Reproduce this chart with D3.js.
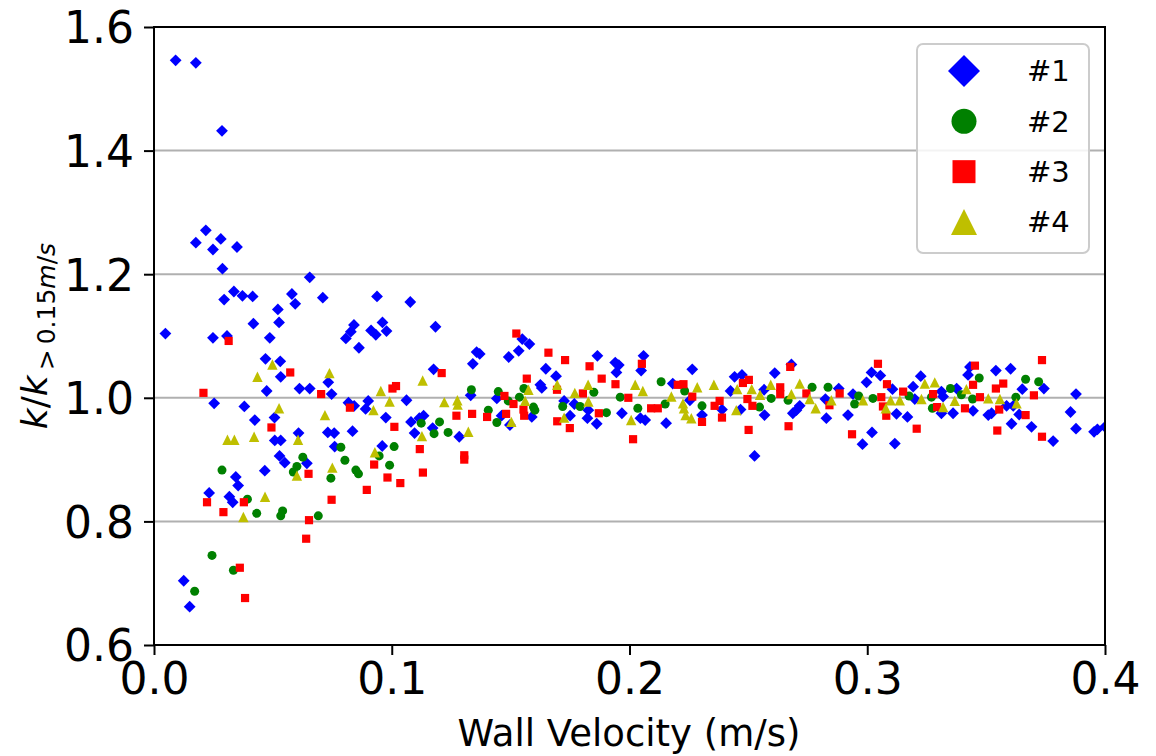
<!DOCTYPE html>
<html>
<head>
<meta charset="utf-8">
<script src="https://cdn.jsdelivr.net/npm/d3@7"></script>
<style>
  html, body { margin: 0; padding: 0; background: #fff; }
  svg { display: block; font-family: "DejaVu Sans", sans-serif; }
</style>
</head>
<body>
<svg id="chart" width="1156" height="756"></svg>
<script>
// ---------------- data ----------------
const seriesNames = ["#1", "#2", "#3", "#4"];
const xTicks = [0.0, 0.1, 0.2, 0.3, 0.4];
const yTicks = [0.6, 0.8, 1.0, 1.2, 1.4, 1.6];
const gridTicks = [0.8, 1.0, 1.2, 1.4];

const series1 = [
  [0.0091,1.546],[0.0176,1.542],[0.0286,1.432],[0.0218,1.271],[0.0176,1.251],[0.0281,1.257],[0.0248,1.240],[0.0349,1.244],
  [0.0288,1.209],[0.0655,1.195],[0.0336,1.172],[0.0372,1.165],[0.0415,1.164],[0.0295,1.159],[0.058,1.168],[0.0594,1.152],
  [0.071,1.162],[0.0938,1.164],[0.0521,1.143],[0.0526,1.122],[0.0418,1.120],[0.0841,1.118],[0.0828,1.107],[0.0913,1.109],
  [0.0961,1.122],[0.0978,1.108],[0.0933,1.102],[0.0048,1.104],[0.0248,1.097],[0.0307,1.100],[0.0487,1.097],[0.0807,1.096],
  [0.0862,1.081],[0.0469,1.063],[0.0531,1.059],[0.0533,1.034],[0.0733,1.025],[0.0474,1.011],[0.0612,1.015],[0.0655,1.015],
  [0.0747,1.006],[0.0253,0.991],[0.038,0.986],[0.0424,0.964],[0.0507,0.968],[0.0818,0.992],[0.0842,0.987],[0.0901,0.995],
  [0.0890,0.982],[0.0975,0.968],[0.0508,0.931],[0.0533,0.931],[0.0608,0.943],[0.0731,0.944],[0.0758,0.943],[0.0835,0.946],
  [0.076,0.921],[0.0960,0.922],[0.0528,0.906],[0.0550,0.895],[0.0643,0.894],[0.0466,0.882],[0.0344,0.872],[0.0354,0.858],
  [0.0232,0.846],[0.0317,0.840],[0.0331,0.831],[0.0125,0.704],[0.015,0.662],
  [0.1078,1.155],[0.1184,1.115],[0.1549,1.095],[0.1579,1.087],[0.1534,1.076],[0.1492,1.066],[0.1357,1.074],[0.137,1.071],
  [0.1341,1.055],[0.1865,1.068],[0.194,1.057],[0.1955,1.053],[0.1945,1.041],[0.1648,1.047],[0.1691,1.035],[0.1176,1.046],
  [0.1625,1.021],[0.1631,1.016],[0.1332,1.004],[0.1062,0.996],[0.1442,0.999],[0.1589,0.969],[0.1462,0.971],[0.1497,0.956],
  [0.1725,0.995],[0.1768,0.990],[0.1827,0.980],[0.1968,0.975],[0.175,0.971],[0.1823,0.967],[0.1862,0.958],[0.1081,0.961],
  [0.1116,0.967],[0.1134,0.971],[0.1096,0.943],[0.1172,0.951],[0.1284,0.937],
  [0.2059,1.068],[0.2049,1.044],[0.2264,1.046],[0.2442,1.034],[0.2473,1.037],[0.2611,1.040],[0.2681,1.054],[0.2182,1.023],
  [0.2425,1.011],[0.2566,1.013],[0.2716,0.987],[0.2880,1.015],[0.2824,0.998],[0.2940,1.006],[0.2046,0.967],[0.2066,0.964],
  [0.2154,0.959],[0.2305,0.972],[0.2254,0.996],[0.2389,0.981],[0.2467,0.981],[0.2568,0.972],[0.2526,0.906],[0.2687,0.975],
  [0.2702,0.980],[0.2828,0.967],[0.2919,0.972],[0.2980,0.925],
  [0.3018,1.041],[0.3055,1.036],[0.2997,1.025],[0.3106,1.014],[0.3193,1.018],[0.3225,1.035],[0.3200,0.998],[0.3123,0.974],
  [0.3169,0.969],[0.3312,1.010],[0.3319,1.002],[0.3312,0.975],[0.3376,1.015],[0.3361,0.975],[0.3424,1.037],[0.3432,1.050],
  [0.3445,0.979],[0.3509,0.972],[0.3523,0.975],[0.3541,1.044],[0.3603,1.047],[0.3607,0.958],[0.3586,0.987],[0.3614,0.987],
  [0.3652,1.014],[0.3639,0.973],[0.3691,0.953],[0.3743,1.015],[0.3782,0.930],[0.3878,1.006],[0.3855,0.977],[0.3878,0.950],
  [0.3954,0.945],[0.3968,0.949],[0.4,0.953],[0.302,0.944],[0.3116,0.926]
];

const series2 = [
  [0.0786,0.920],[0.0803,0.899],[0.0947,0.906],[0.101,0.921],[0.0991,0.891],[0.0849,0.883],[0.0860,0.877],[0.0744,0.870],
  [0.0626,0.904],[0.0601,0.889],[0.0586,0.880],[0.0286,0.883],[0.0393,0.836],[0.0432,0.813],[0.0541,0.817],[0.0533,0.809],
  [0.0691,0.809],[0.0244,0.745],[0.0334,0.721],[0.0171,0.687],
  [0.1335,1.013],[0.1448,1.010],[0.1537,1.001],[0.1556,1.015],[0.149,0.995],[0.1596,0.985],[0.1602,0.980],[0.1406,0.980],
  [0.1442,0.960],[0.1792,0.986],[0.1719,0.986],[0.1903,0.976],[0.1961,1.001],[0.185,1.009],[0.1124,0.959],[0.1178,0.942],
  [0.1201,0.961],[0.1237,0.944],
  [0.2133,1.026],[0.2232,1.011],[0.2596,0.999],[0.2768,1.017],[0.2667,0.996],[0.2835,1.017],[0.2964,1.003],[0.2947,0.990],
  [0.2035,0.983],[0.215,0.990],[0.2305,0.987],[0.2547,0.985],
  [0.3024,0.999],[0.3176,1.003],[0.3270,1.001],[0.3274,0.983],[0.335,1.015],[0.3396,1.005],[0.3471,1.032],[0.3443,0.998],
  [0.3625,1.001],[0.3666,1.030],[0.3721,1.026]
];

const series3 = [
  [0.0314,1.092],[0.0573,1.041],[0.0208,1.008],[0.0703,1.006],[0.1003,1.015],[0.0824,0.984],[0.0494,0.952],[0.1011,0.953],
  [0.0926,0.892],[0.0982,0.871],[0.0895,0.851],[0.0650,0.877],[0.0747,0.835],[0.0223,0.831],[0.0378,0.831],[0.0292,0.815],
  [0.0652,0.802],[0.064,0.772],[0.0361,0.725],[0.0383,0.676],
  [0.1524,1.104],[0.1659,1.073],[0.1729,1.061],[0.1832,1.051],[0.1883,1.031],[0.1941,1.022],[0.1568,1.031],[0.1210,1.040],
  [0.1018,1.019],[0.1695,1.013],[0.1804,1.007],[0.1474,1.003],[0.1512,0.990],[0.1554,0.981],[0.1557,0.971],[0.1401,0.969],
  [0.1481,0.974],[0.1871,0.975],[0.1995,1.000],[0.1696,0.962],[0.1749,0.951],[0.1272,0.971],[0.1338,0.974],[0.1118,0.917],
  [0.1305,0.907],[0.1305,0.900],[0.1131,0.879],[0.1036,0.862],
  [0.2052,1.055],[0.2477,1.024],[0.2502,1.029],[0.2676,1.050],[0.2203,1.021],[0.2227,1.022],[0.2264,1.002],[0.2634,1.017],
  [0.2634,1.006],[0.2744,1.007],[0.2884,1.007],[0.2841,0.988],[0.2015,0.933],[0.2091,0.983],[0.2119,0.983],[0.2305,0.961],
  [0.2358,0.987],[0.2379,0.995],[0.2389,0.968],[0.2496,0.998],[0.2517,0.987],[0.2501,0.948],[0.2669,0.954],[0.2936,0.941],
  [0.3045,1.055],[0.3083,1.022],[0.3059,1.001],[0.3066,0.986],[0.308,0.971],[0.3151,1.010],[0.3277,1.006],[0.3294,0.985],
  [0.3453,1.052],[0.3445,1.021],[0.3411,0.983],[0.3474,1.001],[0.3572,1.023],[0.3541,1.015],[0.3555,0.981],[0.3547,0.947],
  [0.3666,0.972],[0.3701,1.004],[0.3735,1.061],[0.3735,0.937],[0.3208,0.950]
];

const series4 = [
  [0.0498,1.054],[0.0435,1.034],[0.0738,1.040],[0.0954,1.011],[0.0526,0.983],[0.0719,0.972],[0.0923,0.980],[0.0991,0.994],
  [0.0309,0.932],[0.0338,0.932],[0.0421,0.937],[0.0606,0.932],[0.0929,0.912],[0.075,0.887],[0.0601,0.874],[0.0467,0.840],
  [0.0376,0.807],
  [0.113,1.028],[0.1696,1.021],[0.1575,1.013],[0.1826,1.021],[0.177,1.008],[0.1221,0.993],[0.1276,0.996],[0.1277,0.989],
  [0.1561,0.995],[0.1503,0.961],[0.1827,0.994],[0.1725,0.968],[0.1127,0.938],[0.1322,0.945],
  [0.2024,1.021],[0.2056,1.011],[0.2285,1.017],[0.2355,1.021],[0.2176,1.002],[0.2453,1.014],[0.2514,1.014],[0.2549,1.005],
  [0.2594,1.021],[0.2716,1.023],[0.2681,1.006],[0.2758,0.998],[0.2783,0.983],[0.2849,0.996],[0.2982,0.996],[0.2007,0.964],
  [0.2225,0.991],[0.2229,0.983],[0.2236,0.972],[0.226,0.967],[0.2449,0.980],
  [0.3078,0.983],[0.3098,0.996],[0.3137,0.996],[0.3228,0.998],[0.3242,1.023],[0.3284,1.025],[0.3319,0.985],[0.3368,0.995],
  [0.3417,1.014],[0.3509,0.999],[0.3558,0.998],[0.3628,0.991]
];

// ---------------- layout ----------------
const svg = d3.select("#chart");
const L = 154, R = 1105, T = 27, B = 645;
const x = d3.scaleLinear().domain([0, 0.4]).range([L, R]);
const y = d3.scaleLinear().domain([0.6, 1.6]).range([B, T]);

const styles = [
  { color: "#0000ff", shape: "diamond" },
  { color: "#008000", shape: "circle" },
  { color: "#ff0000", shape: "square" },
  { color: "#bfbf00", shape: "triangle" }
];

function markerPath(shape, s) {
  switch (shape) {
    case "diamond": return `M0,${-s}L${s},0L0,${s}L${-s},0Z`;
    case "square": return `M${-s},${-s}H${s}V${s}H${-s}Z`;
    case "triangle": return `M0,${-s}L${s},${s}L${-s},${s}Z`;
    case "circle": return `M${s},0A${s},${s} 0 1,1 ${-s},0A${s},${s} 0 1,1 ${s},0Z`;
  }
}
const markerSize = { diamond: 5.9, circle: 4.5, square: 4.1, triangle: 5.2 };
const legendSize = { diamond: 16, circle: 12.5, square: 11.5, triangle: 13 };

// grid
svg.append("g").selectAll("line").data(gridTicks).join("line")
  .attr("x1", L).attr("x2", R)
  .attr("y1", d => y(d)).attr("y2", d => y(d))
  .attr("stroke", "#b0b0b0").attr("stroke-width", 2);

// clip
svg.append("defs").append("clipPath").attr("id", "plotclip")
  .append("rect").attr("x", L).attr("y", T).attr("width", R - L).attr("height", B - T);

const allSeries = [series1, series2, series3, series4];
const pts = svg.append("g").attr("clip-path", "url(#plotclip)");
allSeries.forEach((data, i) => {
  const st = styles[i];
  pts.append("g").selectAll("path").data(data).join("path")
    .attr("transform", d => `translate(${x(d[0])},${y(d[1])})`)
    .attr("d", markerPath(st.shape, markerSize[st.shape]))
    .attr("fill", st.color);
});

// axes
const xAxis = svg.append("g").attr("transform", `translate(0,${B})`)
  .call(d3.axisBottom(x).tickValues(xTicks).tickFormat(d3.format(".1f")).tickSize(10).tickPadding(8).tickSizeOuter(0));
const yAxis = svg.append("g").attr("transform", `translate(${L},0)`)
  .call(d3.axisLeft(y).tickValues(yTicks).tickFormat(d3.format(".1f")).tickSize(10).tickPadding(10).tickSizeOuter(0));
[xAxis, yAxis].forEach(a => {
  a.select(".domain").remove();
  a.selectAll(".tick line").attr("stroke", "#000").attr("stroke-width", 2);
  a.selectAll(".tick text").attr("font-size", 44).attr("fill", "#000")
    .attr("font-family", "DejaVu Sans, sans-serif");
});
yAxis.selectAll(".tick text").attr("dy", "0.36em");

// frame
svg.append("rect").attr("x", L).attr("y", T).attr("width", R - L).attr("height", B - T)
  .attr("fill", "none").attr("stroke", "#000").attr("stroke-width", 2);

// x label
svg.append("text").attr("x", 629).attr("y", 746)
  .attr("text-anchor", "middle").attr("font-size", 37).attr("fill", "#000")
  .text("Wall Velocity (m/s)");

// y label
const yl = svg.append("text").attr("transform", `translate(47,${(T + B) / 2}) rotate(-90)`)
  .attr("text-anchor", "middle").attr("font-size", 36).attr("fill", "#000");
yl.append("tspan").attr("font-style", "italic").text("k");
yl.append("tspan").text("/");
yl.append("tspan").attr("font-style", "italic").text("k");
yl.append("tspan").attr("font-size", 25).attr("dy", 8).text("\u2009>\u20090.15");
yl.append("tspan").attr("font-size", 25).attr("font-style", "italic").text("m");
yl.append("tspan").attr("font-size", 25).text("/");
yl.append("tspan").attr("font-size", 25).attr("font-style", "italic").text("s");

// legend
const lg = svg.append("g");
lg.append("rect").attr("x", 917).attr("y", 44).attr("width", 172).attr("height", 209)
  .attr("rx", 6).attr("fill", "#fff").attr("fill-opacity", 0.85)
  .attr("stroke", "#cccccc").attr("stroke-width", 2);
const legendY = d3.scalePoint().domain(seriesNames).range([71, 222]);
seriesNames.forEach((name, i) => {
  const st = styles[i];
  lg.append("path").attr("transform", `translate(964,${legendY(name)})`)
    .attr("d", markerPath(st.shape, legendSize[st.shape])).attr("fill", st.color);
  lg.append("text").attr("x", 1027).attr("y", legendY(name)).attr("dy", "0.36em")
    .attr("font-size", 29).attr("fill", "#000").text(name);
});
</script>
</body>
</html>
